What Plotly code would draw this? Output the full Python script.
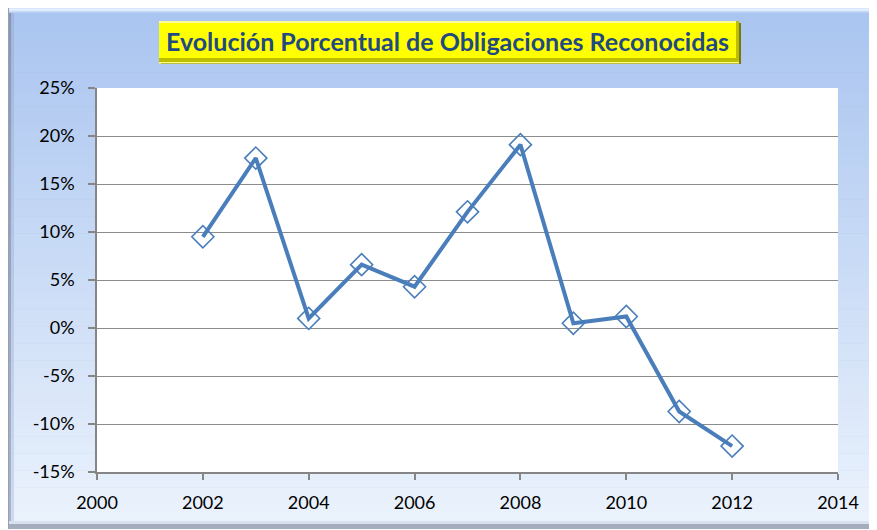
import plotly.graph_objects as go

# ---- data ----
years = [2002, 2003, 2004, 2005, 2006, 2007, 2008, 2009, 2010, 2011, 2012]
pct_change = [0.095, 0.177, 0.010, 0.066, 0.043, 0.121, 0.191, 0.005, 0.012, -0.087, -0.123]
x_tick_vals = [2000, 2002, 2004, 2006, 2008, 2010, 2012, 2014]
x_tick_labels = ["2000", "2002", "2004", "2006", "2008", "2010", "2012", "2014"]
y_tick_vals = [-0.15, -0.10, -0.05, 0.0, 0.05, 0.10, 0.15, 0.20, 0.25]
y_tick_labels = ["-15%", "-10%", "-5%", "0%", "5%", "10%", "15%", "20%", "25%"]
title_text = "Evolución Porcentual de Obligaciones Reconocidas"

# page body has an 8px margin, so the figure starts at (8, 8)
OFF = 8
W, H = 877 - OFF + 2, 530 - OFF
def px(x):
    return (x - OFF) / W
def py(y):
    return 1 - (y - OFF) / H

def lerp(c1, c2, t):
    return "rgb(%d,%d,%d)" % tuple(round(a + (b - a) * t) for a, b in zip(c1, c2))

shapes = []
def rect(x0, y0, x1, y1, color):
    shapes.append(dict(type="rect", xref="paper", yref="paper", layer="below",
                       x0=px(x0), x1=px(x1), y0=py(y1), y1=py(y0),
                       fillcolor=color, line=dict(width=0)))

RIGHT = 879
# frame outline & bevels
rect(8, 5, RIGHT, 529, "rgb(150,160,180)")
top_cols = [(160, 175, 200), (190, 208, 236), (215, 232, 252), (228, 240, 255),
            (220, 234, 252), (200, 218, 246), (185, 206, 240), (175, 200, 240)]
for i, c in enumerate(top_cols):
    rect(9, 6 + i, RIGHT, 7.3 + i, lerp(c, c, 0))
# main vertical gradient
n = 60
top, bot = 13, 521
c_top, c_bot = (170, 197, 240), (234, 242, 252)
for i in range(n):
    y0 = top + (bot - top) * i / n
    y1 = top + (bot - top) * (i + 1) / n + 0.5
    rect(14, y0, RIGHT, y1, lerp(c_top, c_bot, i / (n - 1)))
# left bevel
for i in range(n):
    y0 = top + (bot - top) * i / n
    y1 = top + (bot - top) * (i + 1) / n + 0.5
    t = i / (n - 1)
    rect(9, y0, 11, y1, lerp((135, 150, 180), (170, 180, 200), t))
    rect(11, y0, 14, y1, lerp((160, 182, 222), (205, 218, 240), t))
# bottom bevel
rect(9, 521, RIGHT, 524, "rgb(215,225,240)")
rect(9, 524, RIGHT, 529, "rgb(165,172,188)")

# plot area white
rect(97, 88, 838, 472, "white")

# title box
rect(161, 23, 741, 64, "rgb(120,120,20)")
rect(159, 21, 739, 62, "rgb(190,190,0)")
rect(159, 21, 736, 58, "rgb(255,255,0)")
rect(159, 21, 736, 23, "rgb(255,255,150)")
rect(159, 62, 739, 63.5, "rgb(255,255,120)")

fig = go.Figure()
fig.add_trace(go.Scatter(
    x=years, y=pct_change, mode="lines+markers",
    line=dict(color="#4A7EBB", width=4),
    marker=dict(symbol="diamond-open", size=17, color="#4A7EBB",
                line=dict(width=1.6, color="#4A7EBB")),
    showlegend=False, cliponaxis=False,
))

axis_font = dict(family="Lato, 'Open Sans', sans-serif", size=18, color="black")
fig.update_layout(
    width=W, height=H,
    margin=dict(l=0, r=0, t=0, b=0, pad=0, autoexpand=False),
    paper_bgcolor="white",
    plot_bgcolor="rgba(0,0,0,0)",
    shapes=shapes,
    xaxis=dict(domain=[px(97), px(838)], range=[2000, 2014], automargin=False,
               tickvals=x_tick_vals, ticktext=x_tick_labels,
               showgrid=False, zeroline=False,
               showline=True, linecolor="#868686", linewidth=1.5,
               ticks="outside", ticklen=6, tickcolor="#868686", tickwidth=1.5,
               ticklabelstandoff=8, tickfont=axis_font, fixedrange=True),
    yaxis=dict(domain=[py(472), py(88)], range=[-0.15, 0.25], automargin=False,
               tickvals=y_tick_vals, ticktext=y_tick_labels,
               showgrid=True, gridcolor="#8C8C8C", gridwidth=1.3,
               zeroline=False,
               showline=True, linecolor="#868686", linewidth=1.5,
               ticks="outside", ticklen=7, tickcolor="#868686", tickwidth=1.5,
               ticklabelstandoff=10, tickfont=axis_font, fixedrange=True),
    annotations=[dict(
        text="<b>%s</b>" % title_text, xref="paper", yref="paper",
        x=px(448), y=py(41), xanchor="center", yanchor="middle",
        showarrow=False,
        font=dict(family="Lato, 'Open Sans', sans-serif", size=25, color="#1F4A82"),
    )],
)

fig.write_html("out.html")
